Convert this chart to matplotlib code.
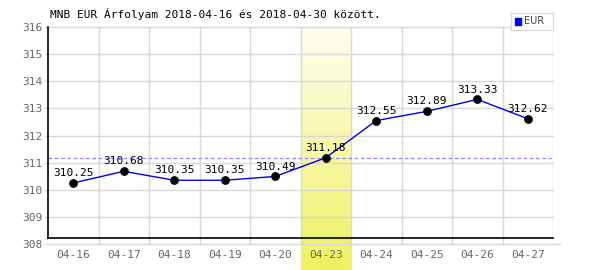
import numpy as np
import matplotlib
matplotlib.use("Agg")
import matplotlib.pyplot as plt

dates = ["04-16", "04-17", "04-18", "04-19", "04-20", "04-23", "04-24", "04-25", "04-26", "04-27"]
rates = [310.25, 310.68, 310.35, 310.35, 310.49, 311.18, 312.55, 312.89, 313.33, 312.62]
highlight = 5
title = "MNB EUR Árfolyam 2018-04-16 és 2018-04-30 között."

mono = "DejaVu Sans Mono"

fig = plt.figure(figsize=(6, 2.7), dpi=100)
ax = fig.add_axes([48/600, 1-244/270, 505/600, 217/270])
x = np.arange(len(dates))
ax.set_xlim(-0.5, len(dates) - 0.5)
ax.set_ylim(308, 316)

# highlighted day band with gradient
grad = np.linspace(0, 1, 100).reshape(-1, 1)
cmap = matplotlib.colors.LinearSegmentedColormap.from_list("hl", ["#f0f060", "#fefef0"])
ax.imshow(grad, cmap=cmap, aspect="auto", origin="lower",
          extent=[highlight - 0.5, highlight + 0.5, 307.05, 316], clip_on=False, zorder=0.5)

# grid
for v in range(308, 317):
    ax.plot([-0.56, 9.64 if v == 308 else 9.5], [v, v], color="#d8d8d8", lw=1, clip_on=False, zorder=0.6)
for k in range(1, len(dates)):
    ax.axvline(k - 0.5, color="#d8d8d8", lw=1, zorder=0.6)
ax.axvline(9.5, color="#d8d8d8", lw=1, zorder=0.6)

for s in ax.spines.values():
    s.set_visible(False)
ax.plot([-0.5, -0.5], [308.22, 316], color="black", lw=1.2, clip_on=False, zorder=3)
ax.plot([-0.5, 9.5], [308.22, 308.22], color="black", lw=1.2, clip_on=False, zorder=3)

ax.axhline(rates[highlight], color="#8888ff", lw=0.9, ls=(0, (3, 2)), zorder=1)

ax.plot(x, rates, color="#0000ee", lw=1, zorder=2)
ax.scatter(x, rates, color="black", s=28, zorder=4)
for xi, r in zip(x, rates):
    ax.text(xi, r + 0.18, f"{r:.2f}", ha="center", va="bottom", fontsize=8, family=mono, color="black", zorder=5)

ax.set_xticks(x)
ax.set_xticklabels(dates)
ax.set_yticks(range(308, 317))
ax.tick_params(length=0, labelsize=8, labelcolor="#666666", pad=4)
for lab in ax.get_xticklabels() + ax.get_yticklabels():
    lab.set_family(mono)

fig.text(50/600, 1-14/270, title, fontsize=8, family=mono, va="center", ha="left")

# legend box
lax = fig.add_axes([511/600, 1-30/270, 42/600, 17/270])
lax.set_xticks([])
lax.set_yticks([])
for s in lax.spines.values():
    s.set_color("#d8d8d8")
lax.add_patch(plt.Rectangle((0.1, 0.3), 0.14, 0.4, color="#0000ee", transform=lax.transAxes))
lax.text(0.3, 0.5, "EUR", fontsize=7, color="#444444", va="center", transform=lax.transAxes)

fig.savefig("out.png", dpi=100)
